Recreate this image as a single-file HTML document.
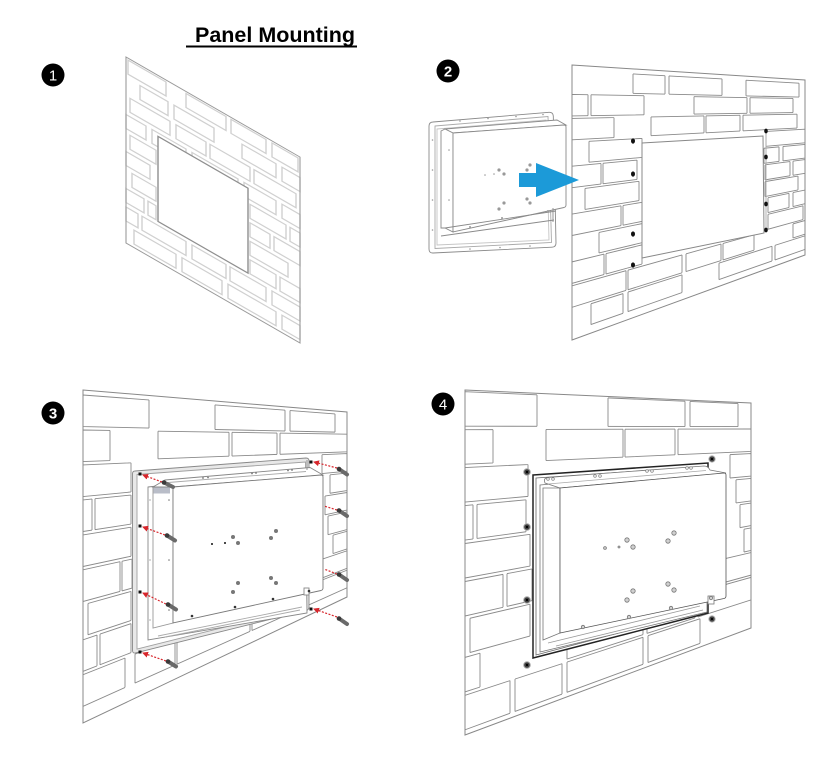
<!DOCTYPE html>
<html><head><meta charset="utf-8">
<style>
html,body{margin:0;padding:0;background:#fff}
svg{display:block}
.w1{fill:none;stroke:#d0d0d0;stroke-width:1.4}
.w{fill:none;stroke:#8a8a8a;stroke-width:.9}
.num{font-family:"Liberation Sans",Arial,sans-serif;font-size:15px;fill:#fff;text-anchor:middle}
</style></head>
<body>
<svg width="833" height="771" viewBox="0 0 833 771" xmlns="http://www.w3.org/2000/svg">
<defs>
<marker id="ar" markerWidth="6" markerHeight="6" refX="5" refY="3" orient="auto" markerUnits="userSpaceOnUse"><path d="M0,0 L6,3 L0,6z" fill="#d7262c"/></marker>
<clipPath id="c2_0"><rect x="633" y="0" width="32" height="771"/><rect x="669" y="0" width="53" height="771"/><rect x="746" y="0" width="53" height="771"/></clipPath>
<clipPath id="d2_0"><polygon points="572,70.5 805,83.5 805,97.2 572,92"/></clipPath>
<clipPath id="c2_1"><rect x="572" y="0" width="16" height="771"/><rect x="591" y="0" width="53" height="771"/><rect x="694" y="0" width="53" height="771"/><rect x="750" y="0" width="43" height="771"/></clipPath>
<clipPath id="d2_1"><polygon points="572,94.4 805,98.7 805,112.4 572,115.9"/></clipPath>
<clipPath id="c2_2"><rect x="572" y="0" width="42" height="771"/><rect x="651" y="0" width="53" height="771"/><rect x="706" y="0" width="34" height="771"/><rect x="743" y="0" width="54" height="771"/></clipPath>
<clipPath id="d2_2"><polygon points="572,118.4 805,114 805,127.6 572,139.8"/></clipPath>
<clipPath id="c2_3"><rect x="589" y="0" width="53" height="771"/><rect x="766" y="0" width="39" height="771"/></clipPath>
<clipPath id="d2_3"><polygon points="572,142.3 805,129.2 805,142.8 572,163.7"/></clipPath>
<clipPath id="c2_4"><rect x="572" y="0" width="29" height="771"/><rect x="603" y="0" width="34" height="771"/><rect x="764" y="0" width="15" height="771"/><rect x="783" y="0" width="22" height="771"/></clipPath>
<clipPath id="d2_4"><polygon points="572,166.2 805,144.4 805,158.1 572,187.7"/></clipPath>
<clipPath id="c2_5"><rect x="585" y="0" width="54" height="771"/><rect x="765" y="0" width="25" height="771"/><rect x="793" y="0" width="12" height="771"/></clipPath>
<clipPath id="d2_5"><polygon points="572,190.1 805,159.6 805,173.3 572,211.6"/></clipPath>
<clipPath id="c2_6"><rect x="572" y="0" width="49" height="771"/><rect x="623" y="0" width="19" height="771"/><rect x="765" y="0" width="33" height="771"/></clipPath>
<clipPath id="d2_6"><polygon points="572,214.1 805,174.9 805,188.5 572,235.5"/></clipPath>
<clipPath id="c2_7"><rect x="599" y="0" width="43" height="771"/><rect x="768" y="0" width="21" height="771"/><rect x="793" y="0" width="12" height="771"/></clipPath>
<clipPath id="d2_7"><polygon points="572,238 805,190.1 805,203.7 572,259.4"/></clipPath>
<clipPath id="c2_8"><rect x="572" y="0" width="32" height="771"/><rect x="606" y="0" width="36" height="771"/><rect x="768" y="0" width="35" height="771"/></clipPath>
<clipPath id="d2_8"><polygon points="572,261.9 805,205.3 805,219 572,283.4"/></clipPath>
<clipPath id="c2_9"><rect x="572" y="0" width="54" height="771"/><rect x="628" y="0" width="54" height="771"/><rect x="686" y="0" width="35" height="771"/><rect x="723" y="0" width="31" height="771"/><rect x="793" y="0" width="12" height="771"/></clipPath>
<clipPath id="d2_9"><polygon points="572,285.8 805,220.5 805,234.2 572,307.3"/></clipPath>
<clipPath id="c2_10"><rect x="591" y="0" width="32" height="771"/><rect x="628" y="0" width="54" height="771"/><rect x="719" y="0" width="53" height="771"/><rect x="775" y="0" width="30" height="771"/></clipPath>
<clipPath id="d2_10"><polygon points="572,309.8 805,235.8 805,249.4 572,331.2"/></clipPath>
<clipPath id="c3_0"><rect x="83" y="0" width="66" height="771"/><rect x="215" y="0" width="70" height="771"/><rect x="290" y="0" width="45" height="771"/></clipPath>
<clipPath id="d3_0"><polygon points="83,395 347,414.8 347,432.4 83,426.6"/></clipPath>
<clipPath id="c3_1"><rect x="83" y="0" width="27" height="771"/><rect x="158" y="0" width="71" height="771"/><rect x="232" y="0" width="45" height="771"/><rect x="280" y="0" width="67" height="771"/></clipPath>
<clipPath id="d3_1"><polygon points="83,430 347,434.2 347,451.8 83,461.6"/></clipPath>
<clipPath id="c3_2"><rect x="83" y="0" width="48" height="771"/><rect x="322" y="0" width="25" height="771"/></clipPath>
<clipPath id="d3_2"><polygon points="83,464.9 347,453.6 347,471.2 83,496.6"/></clipPath>
<clipPath id="c3_3"><rect x="83" y="0" width="9" height="771"/><rect x="95" y="0" width="36" height="771"/><rect x="330" y="0" width="17" height="771"/></clipPath>
<clipPath id="d3_3"><polygon points="83,499.9 347,473.1 347,490.6 83,531.5"/></clipPath>
<clipPath id="c3_4"><rect x="83" y="0" width="48" height="771"/><rect x="325" y="0" width="22" height="771"/></clipPath>
<clipPath id="d3_4"><polygon points="83,534.9 347,492.5 347,510.1 83,566.5"/></clipPath>
<clipPath id="c3_5"><rect x="83" y="0" width="37" height="771"/><rect x="122" y="0" width="10" height="771"/><rect x="328" y="0" width="19" height="771"/></clipPath>
<clipPath id="d3_5"><polygon points="83,569.8 347,511.9 347,529.5 83,601.5"/></clipPath>
<clipPath id="c3_6"><rect x="88" y="0" width="43" height="771"/><rect x="333" y="0" width="14" height="771"/></clipPath>
<clipPath id="d3_6"><polygon points="83,604.8 347,531.3 347,548.9 83,636.4"/></clipPath>
<clipPath id="c3_7"><rect x="83" y="0" width="14" height="771"/><rect x="100" y="0" width="31" height="771"/><rect x="300" y="0" width="47" height="771"/></clipPath>
<clipPath id="d3_7"><polygon points="83,639.8 347,550.8 347,568.3 83,671.4"/></clipPath>
<clipPath id="c3_8"><rect x="83" y="0" width="42" height="771"/><rect x="135" y="0" width="40" height="771"/><rect x="177" y="0" width="73" height="771"/><rect x="252" y="0" width="48" height="771"/><rect x="305" y="0" width="42" height="771"/></clipPath>
<clipPath id="d3_8"><polygon points="83,674.7 347,570.2 347,587.8 83,706.4"/></clipPath>
<clipPath id="c4_0"><rect x="465" y="0" width="72" height="771"/><rect x="608" y="0" width="77" height="771"/><rect x="690" y="0" width="48" height="771"/></clipPath>
<clipPath id="d4_0"><polygon points="465,391.7 751,404.1 751,426.6 465,426.2"/></clipPath>
<clipPath id="c4_1"><rect x="465" y="0" width="28" height="771"/><rect x="546" y="0" width="77" height="771"/><rect x="625" y="0" width="50" height="771"/><rect x="678" y="0" width="73" height="771"/></clipPath>
<clipPath id="d4_1"><polygon points="465,429.7 751,428.9 751,451.4 465,464.2"/></clipPath>
<clipPath id="c4_2"><rect x="465" y="0" width="63" height="771"/><rect x="730" y="0" width="21" height="771"/></clipPath>
<clipPath id="d4_2"><polygon points="465,467.6 751,453.6 751,476.1 465,502.1"/></clipPath>
<clipPath id="c4_3"><rect x="465" y="0" width="8" height="771"/><rect x="477" y="0" width="49" height="771"/><rect x="736" y="0" width="15" height="771"/></clipPath>
<clipPath id="d4_3"><polygon points="465,505.6 751,478.4 751,500.9 465,540.1"/></clipPath>
<clipPath id="c4_4"><rect x="465" y="0" width="65" height="771"/><rect x="740" y="0" width="11" height="771"/></clipPath>
<clipPath id="d4_4"><polygon points="465,543.5 751,503.1 751,525.6 465,578"/></clipPath>
<clipPath id="c4_5"><rect x="465" y="0" width="38" height="771"/><rect x="507" y="0" width="25" height="771"/><rect x="744" y="0" width="7" height="771"/></clipPath>
<clipPath id="d4_5"><polygon points="465,581.5 751,527.9 751,550.4 465,616"/></clipPath>
<clipPath id="c4_6"><rect x="470" y="0" width="60" height="771"/><rect x="700" y="0" width="51" height="771"/></clipPath>
<clipPath id="d4_6"><polygon points="465,619.4 751,552.6 751,575.1 465,653.9"/></clipPath>
<clipPath id="c4_7"><rect x="465" y="0" width="15" height="771"/><rect x="567" y="0" width="76" height="771"/><rect x="647" y="0" width="48" height="771"/><rect x="698" y="0" width="53" height="771"/></clipPath>
<clipPath id="d4_7"><polygon points="465,657.4 751,577.4 751,599.9 465,691.9"/></clipPath>
<clipPath id="c4_8"><rect x="465" y="0" width="45" height="771"/><rect x="515" y="0" width="47" height="771"/><rect x="567" y="0" width="76" height="771"/><rect x="648" y="0" width="52" height="771"/></clipPath>
<clipPath id="d4_8"><polygon points="465,695.3 751,602.1 751,624.6 465,729.8"/></clipPath>
</defs>

<text x="195" y="42" font-family="Liberation Sans, Arial, sans-serif" font-weight="bold" font-size="21.5" fill="#000">Panel Mounting</text>
<rect x="186" y="45.5" width="171" height="2" fill="#000"/>

<circle cx="53" cy="75" r="11.5" fill="#000"/><text class="num" x="53" y="80.5">1</text>
<circle cx="448" cy="71" r="11.5" fill="#000"/><text class="num" x="448" y="76.5" font-weight="bold">2</text>
<circle cx="53" cy="413" r="11.5" fill="#000"/><text class="num" x="53" y="418.5" font-weight="bold">3</text>
<circle cx="443" cy="404" r="11.5" fill="#000"/><text class="num" x="443" y="409.5">4</text>

<g transform="matrix(1,0.575,0,1,126,57)" class="w1">
<rect x="2" y="2" width="38" height="14"/><rect x="60" y="2" width="40" height="14"/><rect x="105" y="2" width="35" height="14"/><rect x="146" y="2" width="26" height="14"/>
<rect x="14" y="20.5" width="28" height="14"/><rect x="48" y="20.5" width="40" height="14"/><rect x="116" y="20.5" width="34" height="14"/><rect x="156" y="20.5" width="18" height="14"/>
<rect x="4" y="39" width="40" height="14"/><rect x="50" y="39" width="30" height="14"/><rect x="84" y="39" width="40" height="14"/><rect x="128" y="39" width="42" height="14"/>
<rect x="0" y="57.5" width="20" height="14"/><rect x="26" y="57.5" width="34" height="14"/><rect x="66" y="57.5" width="46" height="14"/><rect x="118" y="57.5" width="32" height="14"/><rect x="156" y="57.5" width="18" height="14"/>
<rect x="4" y="76" width="26" height="14"/><rect x="124" y="76" width="36" height="14"/><rect x="164" y="76" width="10" height="14"/>
<rect x="0" y="94.5" width="24" height="14"/><rect x="124" y="94.5" width="20" height="14"/><rect x="148" y="94.5" width="26" height="14"/>
<rect x="6" y="113" width="24" height="14"/><rect x="124" y="113" width="38" height="14"/>
<rect x="0" y="131.5" width="18" height="14"/><rect x="22" y="131.5" width="8" height="14"/><rect x="124" y="131.5" width="26" height="14"/><rect x="154" y="131.5" width="20" height="14"/>
<rect x="0" y="150" width="12" height="14"/><rect x="16" y="150" width="44" height="14"/><rect x="66" y="150" width="34" height="14"/><rect x="104" y="150" width="36" height="14"/><rect x="146" y="150" width="28" height="14"/>
<rect x="8" y="168.5" width="42" height="14"/><rect x="56" y="168.5" width="40" height="14"/><rect x="102" y="168.5" width="48" height="14"/><rect x="156" y="168.5" width="18" height="14"/>
<rect x="0" y="0" width="174" height="186" style="stroke:#9a9a9a;stroke-width:1.1"/>
<rect x="32" y="61" width="90" height="85" style="fill:#fff;stroke:#8f8f8f;stroke-width:1.4"/>
</g>

<g class="w">
<polygon points="572,70.5 805,83.5 805,97.2 572,92" clip-path="url(#c2_0)"/><path d="M633,0V771M665,0V771M669,0V771M722,0V771M746,0V771M799,0V771" clip-path="url(#d2_0)"/>
<polygon points="572,94.4 805,98.7 805,112.4 572,115.9" clip-path="url(#c2_1)"/><path d="M588,0V771M591,0V771M644,0V771M694,0V771M747,0V771M750,0V771M793,0V771" clip-path="url(#d2_1)"/>
<polygon points="572,118.4 805,114 805,127.6 572,139.8" clip-path="url(#c2_2)"/><path d="M614,0V771M651,0V771M704,0V771M706,0V771M740,0V771M743,0V771M797,0V771" clip-path="url(#d2_2)"/>
<polygon points="572,142.3 805,129.2 805,142.8 572,163.7" clip-path="url(#c2_3)"/><path d="M589,0V771M642,0V771M766,0V771" clip-path="url(#d2_3)"/>
<polygon points="572,166.2 805,144.4 805,158.1 572,187.7" clip-path="url(#c2_4)"/><path d="M601,0V771M603,0V771M637,0V771M764,0V771M779,0V771M783,0V771" clip-path="url(#d2_4)"/>
<polygon points="572,190.1 805,159.6 805,173.3 572,211.6" clip-path="url(#c2_5)"/><path d="M585,0V771M639,0V771M765,0V771M790,0V771M793,0V771" clip-path="url(#d2_5)"/>
<polygon points="572,214.1 805,174.9 805,188.5 572,235.5" clip-path="url(#c2_6)"/><path d="M621,0V771M623,0V771M642,0V771M765,0V771M798,0V771" clip-path="url(#d2_6)"/>
<polygon points="572,238 805,190.1 805,203.7 572,259.4" clip-path="url(#c2_7)"/><path d="M599,0V771M642,0V771M768,0V771M789,0V771M793,0V771" clip-path="url(#d2_7)"/>
<polygon points="572,261.9 805,205.3 805,219 572,283.4" clip-path="url(#c2_8)"/><path d="M604,0V771M606,0V771M642,0V771M768,0V771M803,0V771" clip-path="url(#d2_8)"/>
<polygon points="572,285.8 805,220.5 805,234.2 572,307.3" clip-path="url(#c2_9)"/><path d="M626,0V771M628,0V771M682,0V771M686,0V771M721,0V771M723,0V771M754,0V771M793,0V771" clip-path="url(#d2_9)"/>
<polygon points="572,309.8 805,235.8 805,249.4 572,331.2" clip-path="url(#c2_10)"/><path d="M591,0V771M623,0V771M628,0V771M682,0V771M719,0V771M772,0V771M775,0V771" clip-path="url(#d2_10)"/>
<polygon points="572,65 805,80 805,255 572,340" style="stroke:#888;stroke-width:1"/>
<polygon points="642,143 763,136 764,233 642,258" style="fill:#fff;stroke:#888;stroke-width:1"/>
<line x1="766" y1="131" x2="766" y2="232" style="stroke:#aaa"/>
</g>
<g fill="#111">
<ellipse cx="633" cy="141" rx="2" ry="2.6"/><ellipse cx="633" cy="174" rx="2" ry="2.6"/><ellipse cx="633" cy="234" rx="2" ry="2.6"/><ellipse cx="633" cy="265" rx="2" ry="2.6"/>
<ellipse cx="766" cy="131" rx="1.8" ry="2.4"/><ellipse cx="766" cy="157" rx="1.8" ry="2.4"/><ellipse cx="766" cy="204" rx="1.8" ry="2.4"/><ellipse cx="766" cy="230" rx="1.8" ry="2.4"/>
</g>

<g stroke="#8a8a8a" stroke-width=".9" fill="#fff">
<path d="M433,122 L549,112.3 Q553,112 553.3,116 L556,243 Q556,247 552,247.2 L433,253 Q429,253.2 429,249 L429,126 Q429,122.2 433,122Z"/>
<path d="M435,126 L548,116.5 L551.5,242.5 L435,248.5Z" fill="none" stroke="#aaa"/>
<path d="M437,129 L546,120 L549,240 L437,245Z" fill="none" stroke="#c4c4c4"/>
<polygon points="445,129 557,120 566,125 453,133"/>
<polygon points="441,131 445,129 453,133 453,232 445,228 441,228"/>
<path d="M453,133 L564,125 Q566,125 566,127 L566,205 Q566,207 564,207.5 L453,232Z"/>
<path d="M445,228 L556,211 M441,236 L554,220 M553,208 L553,222" fill="none"/>
</g>
<g fill="#999">
<circle cx="432.5" cy="140" r=".8"/><circle cx="432.5" cy="170" r=".8"/><circle cx="432.5" cy="200" r=".8"/><circle cx="432.5" cy="230" r=".8"/>
<circle cx="460" cy="121" r=".8"/><circle cx="488" cy="118.5" r=".8"/><circle cx="516" cy="116.5" r=".8"/><circle cx="543" cy="114.5" r=".8"/>
<circle cx="470" cy="249" r=".8"/><circle cx="500" cy="247.5" r=".8"/><circle cx="530" cy="246" r=".8"/>
<circle cx="485" cy="175" r=".8"/><circle cx="494" cy="174" r=".8"/><circle cx="499" cy="170" r="1.6"/><circle cx="504" cy="174" r="1.6"/>
<circle cx="527" cy="170" r="1.6"/><circle cx="530" cy="165" r="1.6"/><circle cx="527" cy="199" r="1.6"/><circle cx="530" cy="203" r="1.6"/>
<circle cx="504" cy="203" r="1.6"/><circle cx="499" cy="209" r="1.6"/><circle cx="502" cy="218" r="1"/><circle cx="470" cy="227" r="1"/><circle cx="548" cy="211" r="1"/>
<circle cx="449" cy="150" r=".8"/><circle cx="449" cy="200" r=".8"/>
</g>
<path d="M519,173 L536,173 L536,163 L579,180 L536,197 L536,187 L519,187Z" fill="#1c9ad8"/>

<g class="w">
<polygon points="83,395 347,414.8 347,432.4 83,426.6" clip-path="url(#c3_0)"/><path d="M83,0V771M149,0V771M215,0V771M285,0V771M290,0V771M335,0V771" clip-path="url(#d3_0)"/>
<polygon points="83,430 347,434.2 347,451.8 83,461.6" clip-path="url(#c3_1)"/><path d="M110,0V771M158,0V771M229,0V771M232,0V771M277,0V771M280,0V771" clip-path="url(#d3_1)"/>
<polygon points="83,464.9 347,453.6 347,471.2 83,496.6" clip-path="url(#c3_2)"/><path d="M131,0V771M322,0V771" clip-path="url(#d3_2)"/>
<polygon points="83,499.9 347,473.1 347,490.6 83,531.5" clip-path="url(#c3_3)"/><path d="M92,0V771M95,0V771M131,0V771M330,0V771" clip-path="url(#d3_3)"/>
<polygon points="83,534.9 347,492.5 347,510.1 83,566.5" clip-path="url(#c3_4)"/><path d="M131,0V771M325,0V771" clip-path="url(#d3_4)"/>
<polygon points="83,569.8 347,511.9 347,529.5 83,601.5" clip-path="url(#c3_5)"/><path d="M120,0V771M122,0V771M132,0V771M328,0V771" clip-path="url(#d3_5)"/>
<polygon points="83,604.8 347,531.3 347,548.9 83,636.4" clip-path="url(#c3_6)"/><path d="M88,0V771M131,0V771M333,0V771" clip-path="url(#d3_6)"/>
<polygon points="83,639.8 347,550.8 347,568.3 83,671.4" clip-path="url(#c3_7)"/><path d="M97,0V771M100,0V771M131,0V771M300,0V771" clip-path="url(#d3_7)"/>
<polygon points="83,674.7 347,570.2 347,587.8 83,706.4" clip-path="url(#c3_8)"/><path d="M125,0V771M135,0V771M175,0V771M177,0V771M250,0V771M252,0V771M300,0V771M305,0V771" clip-path="url(#d3_8)"/>
<polygon points="83,390 347,412 347,597 83,723" style="stroke:#888;stroke-width:1"/>
</g>

<g stroke="#888" stroke-width=".9">
<path d="M135,471 L306,458 Q309,458 309,461 L309,607 Q309,610 306,610.5 L135,653 Q132.5,653.5 132.5,650 L132.5,474 Q132.5,471 135,471Z" fill="#e8e8e8"/>
<polygon points="137,474.5 305.5,462 305.5,607 137,649" fill="#fff" stroke="#a0a0a0"/>
<polygon points="148,487 305,470 307,613 148,640" fill="#fff"/>
<polygon points="153,487 173,487 173,623 153,628" fill="#fff" stroke="#999"/>
<polygon points="153,487 165,480 310,467.5 323,475 173,487" fill="#fff"/>
<path d="M162,483 L306,471.5" fill="none" stroke="#aaa"/>
<path d="M173,487 L321,475 Q323,475 323,477 L323,588 Q323,590 321,590.5 L173,623Z" fill="#fff" stroke="#7a7a7a"/>
<path d="M158,636 L302,607 M165,637 L300,610" fill="none" stroke="#aaa"/>
<rect x="304" y="588" width="5" height="7" fill="#fff"/>
<path d="M307,460 L307,470" fill="none"/>
</g>
<polygon points="153.5,487.5 170,487.5 170,493.5 153.5,493.5" fill="#b9bdc8"/>
<g fill="#777">
<circle cx="203" cy="478" r=".9"/><circle cx="208" cy="477.5" r=".9"/><circle cx="252" cy="473.5" r=".9"/><circle cx="256" cy="473" r=".9"/><circle cx="288" cy="470.5" r=".9"/><circle cx="292" cy="470" r=".9"/>
<circle cx="212" cy="544" r="1" fill="#111"/><circle cx="225" cy="543" r="1" fill="#111"/>
<circle cx="233" cy="537" r="2"/><circle cx="238" cy="543" r="2"/><circle cx="271" cy="538" r="2"/><circle cx="276" cy="531" r="2"/>
<circle cx="271" cy="578" r="2"/><circle cx="276" cy="583" r="2"/><circle cx="238" cy="583" r="2"/><circle cx="233" cy="592" r="2"/>
<circle cx="235" cy="607" r="1.3" fill="#333"/><circle cx="192" cy="616" r="1.3" fill="#333"/><circle cx="273" cy="599" r="1.3" fill="#333"/><circle cx="309" cy="591" r="1.3" fill="#333"/>
<circle cx="169" cy="500" r=".8"/><circle cx="169" cy="560" r=".8"/><circle cx="169" cy="610" r=".8"/><circle cx="150" cy="500" r=".6"/><circle cx="150" cy="560" r=".6"/><circle cx="150" cy="620" r=".6"/>
</g>
<g fill="#111">
<rect x="138.5" y="472.5" width="3" height="3"/><rect x="138.5" y="524.5" width="3" height="3"/><rect x="138.5" y="590.5" width="3" height="3"/><rect x="138.5" y="650.5" width="3" height="3"/>
<rect x="309.5" y="460.5" width="3" height="3"/><rect x="309.5" y="607.5" width="3" height="3"/>
</g>
<g stroke="#d7262c" stroke-width="1.2" stroke-dasharray="2 1.5" fill="none">
<line x1="162" y1="482" x2="143" y2="475" marker-end="url(#ar)"/>
<line x1="165" y1="535" x2="143" y2="527" marker-end="url(#ar)"/>
<line x1="166" y1="604" x2="143" y2="593" marker-end="url(#ar)"/>
<line x1="166" y1="661" x2="143" y2="653" marker-end="url(#ar)"/>
<line x1="337" y1="468" x2="314" y2="462" marker-end="url(#ar)"/>
<line x1="337" y1="510" x2="324" y2="506"/>
<line x1="337" y1="574" x2="324" y2="569"/>
<line x1="337" y1="617" x2="314" y2="609" marker-end="url(#ar)"/>
</g>
<g stroke="#6a6a6a" stroke-width="4" stroke-linecap="round">
<line x1="164" y1="482.5" x2="173" y2="487"/><line x1="167" y1="535.5" x2="175" y2="540.5"/><line x1="168" y1="604.5" x2="176" y2="609.5"/><line x1="168" y1="661.5" x2="176" y2="666.5"/>
<line x1="339" y1="469" x2="347" y2="474.5"/><line x1="339" y1="510.5" x2="347" y2="516"/><line x1="339" y1="574.5" x2="347" y2="580"/><line x1="339" y1="618.5" x2="347" y2="624"/>
</g>
<g fill="#3a3a3a">
<circle cx="164" cy="482.5" r="2.3"/><circle cx="167" cy="535.5" r="2.3"/><circle cx="168" cy="604.5" r="2.3"/><circle cx="168" cy="661.5" r="2.3"/>
<circle cx="339" cy="469" r="2.3"/><circle cx="339" cy="510.5" r="2.3"/><circle cx="339" cy="574.5" r="2.3"/><circle cx="339" cy="618.5" r="2.3"/>
</g>

<g class="w">
<polygon points="465,391.7 751,404.1 751,426.6 465,426.2" clip-path="url(#c4_0)"/><path d="M537,0V771M608,0V771M685,0V771M690,0V771M738,0V771" clip-path="url(#d4_0)"/>
<polygon points="465,429.7 751,428.9 751,451.4 465,464.2" clip-path="url(#c4_1)"/><path d="M493,0V771M546,0V771M623,0V771M625,0V771M675,0V771M678,0V771" clip-path="url(#d4_1)"/>
<polygon points="465,467.6 751,453.6 751,476.1 465,502.1" clip-path="url(#c4_2)"/><path d="M528,0V771M730,0V771" clip-path="url(#d4_2)"/>
<polygon points="465,505.6 751,478.4 751,500.9 465,540.1" clip-path="url(#c4_3)"/><path d="M473,0V771M477,0V771M526,0V771M736,0V771" clip-path="url(#d4_3)"/>
<polygon points="465,543.5 751,503.1 751,525.6 465,578" clip-path="url(#c4_4)"/><path d="M530,0V771M740,0V771" clip-path="url(#d4_4)"/>
<polygon points="465,581.5 751,527.9 751,550.4 465,616" clip-path="url(#c4_5)"/><path d="M503,0V771M507,0V771M532,0V771M744,0V771" clip-path="url(#d4_5)"/>
<polygon points="465,619.4 751,552.6 751,575.1 465,653.9" clip-path="url(#c4_6)"/><path d="M470,0V771M530,0V771M700,0V771" clip-path="url(#d4_6)"/>
<polygon points="465,657.4 751,577.4 751,599.9 465,691.9" clip-path="url(#c4_7)"/><path d="M480,0V771M567,0V771M643,0V771M647,0V771M695,0V771M698,0V771" clip-path="url(#d4_7)"/>
<polygon points="465,695.3 751,602.1 751,624.6 465,729.8" clip-path="url(#c4_8)"/><path d="M510,0V771M515,0V771M562,0V771M567,0V771M643,0V771M648,0V771M700,0V771" clip-path="url(#d4_8)"/>
<polygon points="465,390 751,403 751,628 465,735" style="stroke:#888;stroke-width:1"/>
</g>

<polygon points="533,475 708,463 708,613 533,658" fill="#fff" stroke="#222" stroke-width="1.5"/>
<g stroke="#777" stroke-width=".8">
<polygon points="536,478 705,466.5 705,610 536,655" fill="#fff" stroke="#666"/>
<polygon points="540,485 707,470 707,612 540,652" fill="#fff"/>
<polygon points="543,488 560,488 560,633 543,640" fill="#fff"/>
<path d="M545,483 Q543,478 548,477.5 L704,466 Q708,466 710,470 L726,473 L560,488Z" fill="#fff"/>
<path d="M548,484 L706,470.5" fill="none" stroke="#aaa"/>
<path d="M560,488 L724,473 Q726,473 726,475 L726,596 Q726,598 724,598.5 L560,633Z" fill="#fff" stroke="#555"/>
<path d="M548,643 L700,606 M556,646 L703,610" fill="none" stroke="#999"/>
<rect x="708" y="596" width="6" height="8" fill="#fff"/>
</g>
<g fill="#fff" stroke="#777" stroke-width=".7">
<circle cx="548" cy="479" r="1.3"/><circle cx="553" cy="479" r="1.3"/><circle cx="595" cy="476" r="1.3"/><circle cx="600" cy="476" r="1.3"/>
<circle cx="647" cy="471" r="1.3"/><circle cx="652" cy="471" r="1.3"/><circle cx="687" cy="468" r="1.3"/><circle cx="691" cy="468" r="1.3"/>
</g>
<g fill="#d0d0d0" stroke="#777" stroke-width=".8">
<circle cx="605" cy="548" r="1.4"/><circle cx="619" cy="547" r="1"/>
<circle cx="627" cy="540" r="2.2"/><circle cx="633" cy="547" r="2.2"/><circle cx="668" cy="541" r="2.2"/><circle cx="674" cy="533" r="2.2"/>
<circle cx="668" cy="584" r="2.2"/><circle cx="674" cy="590" r="2.2"/><circle cx="633" cy="591" r="2.2"/><circle cx="627" cy="600" r="2.2"/>
<circle cx="629" cy="617" r="1.7"/><circle cx="583" cy="627" r="1.7"/><circle cx="671" cy="608" r="1.7"/><circle cx="711" cy="598" r="1.7"/>
</g>
<g>
<circle cx="527" cy="472" r="3.3" fill="#444" stroke="#aaa" stroke-width="1"/><circle cx="527" cy="472" r="1.2" fill="#000"/>
<circle cx="527" cy="527" r="3.3" fill="#444" stroke="#aaa" stroke-width="1"/><circle cx="527" cy="527" r="1.2" fill="#000"/>
<circle cx="527" cy="600" r="3.3" fill="#444" stroke="#aaa" stroke-width="1"/><circle cx="527" cy="600" r="1.2" fill="#000"/>
<circle cx="527" cy="665" r="3.3" fill="#444" stroke="#aaa" stroke-width="1"/><circle cx="527" cy="665" r="1.2" fill="#000"/>
<circle cx="712" cy="459" r="3.1" fill="#444" stroke="#aaa" stroke-width="1"/><circle cx="712" cy="459" r="1.1" fill="#000"/>
<circle cx="712" cy="619" r="3.1" fill="#444" stroke="#aaa" stroke-width="1"/><circle cx="712" cy="619" r="1.1" fill="#000"/>
</g>
</svg>
</body></html>
